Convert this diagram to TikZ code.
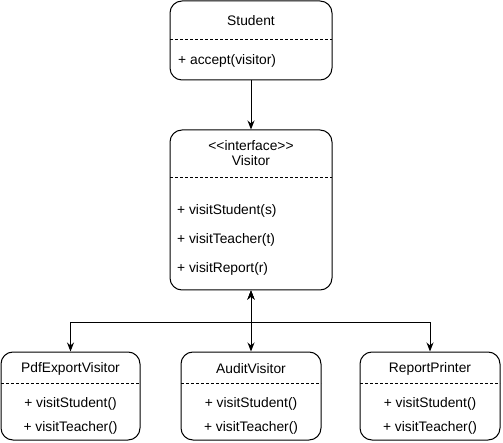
\documentclass[tikz,border=0pt]{standalone}
\usepackage{fontspec}
\setmainfont{Liberation Sans}
\usetikzlibrary{arrows.meta}
\begin{document}
\begin{tikzpicture}[x=1pt,y=-1pt,
  box/.style={draw,rounded corners=12pt,line width=1pt,inner sep=0pt},
  sep/.style={line width=0.7pt,dash pattern=on 3pt off 2pt},
  txt/.style={inner sep=0pt,font=\fontsize{13.8}{16}\selectfont},
  arr/.style={line width=1pt,-{Stealth[length=9pt,width=7pt]}},
  biarr/.style={line width=1pt,{Stealth[length=9pt,width=7pt]}-{Stealth[length=9pt,width=7pt]}}]
\useasboundingbox (0,0) rectangle (503,443);
% Student
\node[box,minimum width=162pt,minimum height=79pt] (student) at (251,40.5) {};
\draw[sep] (170,39) -- (332,39);
\node[txt] (stitle) at (251,21) {Student};
\node[txt,anchor=west] (sm1) at (178,61) {+ accept(visitor)};
% Visitor
\node[box,minimum width=162pt,minimum height=160pt] (visitor) at (251,210) {};
\draw[sep] (170,177) -- (332,177);
\node[txt] (vst) at (251,146) {{<}{<}interface{>}{>}};
\node[txt] (vtitle) at (251,161) {Visitor};
\node[txt,anchor=west] (vm1) at (177,211) {+ visitStudent(s)};
\node[txt,anchor=west] (vm2) at (177,240) {+ visitTeacher(t)};
\node[txt,anchor=west] (vm3) at (177,269) {+ visitReport(r)};
% Children
\node[box,minimum width=139pt,minimum height=88pt] (pdf) at (70.5,396) {};
\node[box,minimum width=140pt,minimum height=88pt] (audit) at (251,396) {};
\node[box,minimum width=140pt,minimum height=88pt] (report) at (430,396) {};
\draw[sep] (1,383) -- (140,383);
\draw[sep] (181,383) -- (321,383);
\draw[sep] (360,383) -- (500,383);
\node[txt] (pt) at (70.5,369) {PdfExportVisitor};
\node[txt] (pm1) at (70.5,404) {+ visitStudent()};
\node[txt] (pm2) at (70.5,428) {+ visitTeacher()};
\node[txt] (at) at (251,369) {AuditVisitor};
\node[txt] (am1) at (251,404) {+ visitStudent()};
\node[txt] (am2) at (251,428) {+ visitTeacher()};
\node[txt] (rt) at (430,369) {ReportPrinter};
\node[txt] (rm1) at (430,404) {+ visitStudent()};
\node[txt] (rm2) at (430,428) {+ visitTeacher()};
% Connectors
\draw[arr] (student.south) -- (visitor.north);
\coordinate (hub) at (251,323);
\draw[biarr] (visitor.south) -- (hub) -| (pdf.north);
\draw[biarr] (visitor.south) -- (audit.north);
\draw[biarr] (visitor.south) -- (hub) -| (report.north);
\end{tikzpicture}
\end{document}
